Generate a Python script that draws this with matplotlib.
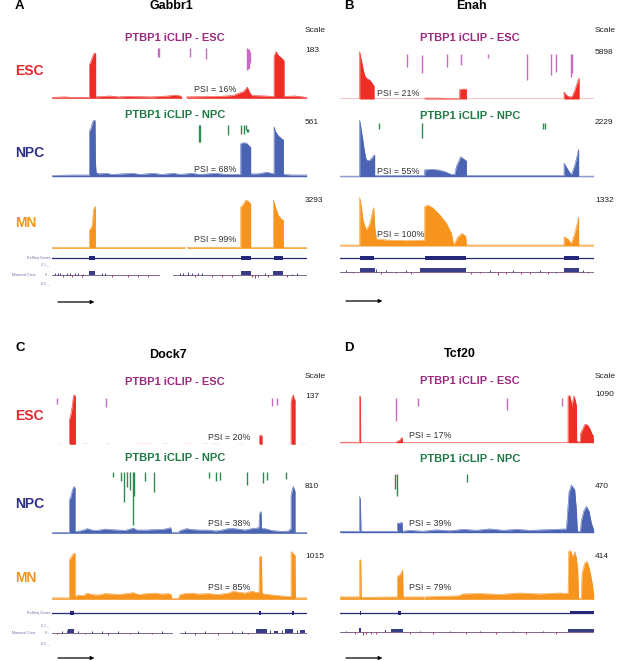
import matplotlib
matplotlib.use("Agg")
import matplotlib.pyplot as plt

plt.rcParams['font.family'] = ['Liberation Sans', 'DejaVu Sans']

# ---------------- DATA ----------------
# Positions are in gene units (0..span), coverage as fraction of the track scale.
genes = ["Gabbr1", "Enah", "Dock7", "Tcf20"]
panel_letters = ["A", "B", "C", "D"]
spans = [765, 762, 765, 762]

gabbr1_scale = [183, 561, 3293]
enah_scale = [5898, 2229, 1332]
dock7_scale = [137, 810, 1015]
tcf20_scale = [1090, 470, 414]

gabbr1_psi = [16, 68, 99]
enah_psi = [21, 55, 100]
dock7_psi = [20, 38, 85]
tcf20_psi = [17, 39, 79]

# --- Gabbr1 coverage ---
gabbr1_esc = [(0,0.02),(40,0.03),(60,0.02),(113,0.02),(113,0.72),(117,0.78),(123,0.9),(127,0.96),(130,0.97),
              (132,0.95),(132,0.03),(175,0.05),(200,0.03),(225,0.04),(300,0.03),(350,0.05),(370,0.07),(385,0.05),
              (390,0.03),(390,0),(405,0),(405,0.03),(500,0.04),(545,0.06),(565,0.12),(575,0.14),(582,0.2),
              (587,0.24),(592,0.15),(600,0.06),(640,0.05),(667,0.04),(667,0.9),(673,1.0),(680,0.92),(690,0.86),
              (695,0.82),(697,0.8),(697,0.04),(730,0.05),(765,0.02)]
gabbr1_npc = [(0,0.02),(60,0.03),(113,0.03),(113,0.8),(118,0.86),(123,0.97),(128,1.0),(130,0.99),(131,0.3),
              (133,0.08),(140,0.05),(165,0.06),(180,0.04),(245,0.06),(265,0.04),(305,0.06),(330,0.04),(365,0.06),
              (385,0.04),(420,0.06),(445,0.04),(490,0.06),(525,0.04),(567,0.04),(567,0.58),(575,0.6),(585,0.59),
              (593,0.54),(597,0.52),(597,0.05),(620,0.05),(645,0.08),(667,0.05),(667,0.88),(671,0.8),(680,0.72),
              (690,0.67),(695,0.65),(695,0.04),(720,0.03),(765,0.03)]
gabbr1_mn = [(0,0.02),(113,0.02),(113,0.38),(118,0.42),(122,0.5),(125,0.8),(129,0.86),(131,0.86),(131,0.02),
             (400,0.02),(400,0),(407,0),(407,0.02),(567,0.02),(567,0.85),(575,0.92),(583,1.0),(590,0.97),
             (597,0.93),(597,0.02),(665,0.02),(665,1.0),(671,0.86),(680,0.68),(690,0.6),(695,0.58),(695,0.02),
             (765,0.02)]
gabbr1_clip_esc = [(320,1.07,0.89),(322,1.07,0.89),(416,1.07,0.89),(462,1.07,0.84),
                   (587,1.07,0.6),(590,1.05,0.62),(593,1.05,0.65),(596,1.0,0.75)]
gabbr1_clip_npc = [(441,0.91,0.62),(444,0.91,0.62),(530,0.91,0.74),(567,0.91,0.76),(578,0.91,0.76),
                   (584,0.91,0.82),(587,0.85,0.78),(590,0.85,0.78)]
gabbr1_exons = [(113,130),(567,597),(667,695)]
gabbr1_cons_segments = [(0,323),(365,765)]
gabbr1_cons_blocks = [(113,130,0.45),(567,597,0.45),(663,695,0.45)]
gabbr1_cons_ticks = [(10,0.25),(18,0.2),(25,0.3),(33,-0.3),(45,0.25),(55,0.2),(60,-0.2),(70,0.2),(80,0.3),
                     (90,-0.3),(95,0.15),(150,0.25),(160,0.2),(180,-0.2),(230,-0.2),(260,-0.25),(290,-0.2),
                     (385,0.2),(395,0.3),(410,0.35),(420,0.2),(430,-0.3),(440,0.25),(450,0.2),(480,-0.3),
                     (510,-0.25),(540,-0.2),(600,-0.3),(610,-0.35),(620,-0.3),(640,0.2),(650,-0.25),(705,-0.3),
                     (720,0.15),(735,0.2)]

# --- Enah coverage ---
enah_esc = [(0,0),(60,0),(60,1.0),(63,0.88),(67,0.75),(72,0.58),(75,0.5),(80,0.44),(90,0.4),(96,0.35),
            (100,0.3),(103,0.28),(103,0),(255,0),(255,0.02),(300,0.02),(335,0.01),(360,0.01),(360,0.2),
            (370,0.21),(378,0.21),(380,0.2),(380,0),(673,0),(673,0.15),(680,0.08),(690,0.04),(698,0.06),
            (705,0.18),(712,0.33),(718,0.44),(718,0),(762,0)]
enah_npc = [(0,0.01),(60,0.01),(60,1.0),(64,0.85),(68,0.7),(73,0.5),(78,0.33),(82,0.29),(90,0.29),(95,0.32),
            (103,0.38),(105,0.38),(105,0.02),(255,0.02),(255,0.12),(275,0.13),(295,0.12),(315,0.09),(335,0.04),
            (345,0.04),(350,0.18),(363,0.35),(375,0.3),(380,0.28),(380,0.02),(673,0.02),(673,0.24),(685,0.12),
            (695,0.03),(705,0.2),(717,0.48),(717,0.01),(762,0.01)]
enah_mn = [(0,0.02),(60,0.02),(60,1.0),(65,0.8),(70,0.53),(75,0.42),(80,0.33),(90,0.45),(100,0.75),(102,0.79),
           (105,0.4),(110,0.14),(150,0.12),(200,0.11),(255,0.12),(255,0.81),(265,0.84),(280,0.78),(300,0.64),
           (320,0.47),(335,0.26),(342,0.02),(355,0.19),(367,0.26),(378,0.2),(380,0.02),(673,0.02),(673,0.19),
           (685,0.14),(695,0.05),(705,0.26),(717,0.59),(717,0.02),(762,0.02)]
enah_clip_esc = [(203,0.96,0.68),(248,0.93,0.54),(323,0.96,0.68),(365,0.95,0.72),(445,0.95,0.86),
                 (562,0.96,0.40),(633,0.96,0.5),(650,0.96,0.58),(693,0.96,0.47),(698,0.96,0.55)]
enah_clip_npc = [(118,0.94,0.84),(248,0.94,0.68),(611,0.94,0.85),(615,0.94,0.85)]
enah_exons = [(60,103),(255,380),(673,717)]
enah_cons_segments = [(0,762)]
enah_cons_blocks = [(60,105,0.4),(240,380,0.45),(673,717,0.4)]
enah_cons_ticks = [(20,0.15),(40,-0.2),(110,0.3),(125,-0.25),(140,0.2),(170,-0.2),(200,0.2),(215,-0.3),
                   (395,-0.3),(420,-0.2),(450,0.2),(475,-0.4),(500,-0.3),(520,0.2),(545,-0.3),(570,-0.25),
                   (600,0.2),(625,-0.3),(650,-0.2),(730,0.2),(745,-0.2)]

# --- Dock7 coverage ---
dock7_esc = [(0,0),(53,0),(53,0.49),(58,0.62),(60,0.7),(63,0.85),(65,0.98),(69,1.0),(71,0.95),(71,0),(623,0),
             (623,0.16),(627,0.19),(631,0.17),(631,0),(718,0),(718,0.86),(722,0.97),(725,1.0),(727,0.93),
             (730,0.9),(730,0),(765,0)]
dock7_esc_dashes = [(15,25),(90,105),(160,172),(255,300),(330,345),(395,415),(455,470),(480,500),(560,575),
                    (705,712),(745,760)]
dock7_npc = [(0,0.02),(53,0.02),(53,0.71),(58,0.8),(62,0.93),(67,1.0),(70,0.97),(70,0.04),(85,0.05),(100,0.08),
             (107,0.1),(120,0.07),(135,0.06),(160,0.09),(175,0.08),(200,0.07),(220,0.06),(245,0.11),(255,0.07),
             (285,0.07),(310,0.08),(330,0.08),(345,0.1),(357,0.12),(360,0.02),(380,0.02),(385,0.06),(405,0.1),
             (420,0.08),(445,0.07),(470,0.07),(490,0.05),(505,0.06),(530,0.1),(545,0.1),(560,0.09),(580,0.07),
             (600,0.1),(615,0.11),(620,0.12),(622,0.12),(623,0.4),(626,0.46),(628,0.46),(629,0.1),(640,0.1),
             (660,0.06),(690,0.04),(710,0.05),(718,0.1),(718,0.79),(722,0.95),(725,1.0),(728,0.93),(730,0.9),
             (730,0.02),(765,0.02)]
dock7_mn = [(0,0.03),(53,0.03),(53,0.83),(58,0.88),(62,0.93),(67,0.97),(70,0.95),(70,0.06),(80,0.09),(95,0.08),
            (107,0.13),(120,0.1),(140,0.09),(160,0.12),(185,0.11),(200,0.1),(225,0.12),(245,0.14),(260,0.1),
            (285,0.12),(310,0.13),(330,0.11),(350,0.12),(358,0.1),(360,0.02),(380,0.02),(385,0.1),(400,0.12),
            (420,0.13),(440,0.11),(470,0.12),(500,0.1),(530,0.13),(545,0.17),(560,0.15),(580,0.13),(600,0.17),
            (615,0.14),(622,0.15),(623,0.88),(626,0.9),(629,0.9),(631,0.12),(650,0.1),(690,0.07),(710,0.06),
            (718,0.06),(718,1.0),(722,0.98),(726,0.94),(730,0.93),(731,0.03),(765,0.03)]
dock7_clip_esc = [(17,0.93,0.82),(163,0.93,0.75),(660,0.93,0.78),(677,0.93,0.8)]
dock7_clip_npc = [(183,1.32,1.21),(209,1.32,1.11),(217,1.32,0.68),(225,1.32,1.0),(235,1.32,0.93),(243,1.32,0.18),
                  (248,1.32,0.79),(280,1.32,1.11),(307,1.32,0.89),(472,1.32,1.18),(493,1.32,1.11),
                  (505,1.32,1.14),(587,1.32,1.04),(635,1.32,1.07),(647,1.32,1.14),(702,1.32,1.16)]
dock7_exons = [(55,67),(623,629),(720,726)]
dock7_cons_segments = [(0,360),(385,765)]
dock7_cons_blocks = [(50,67,0.4),(612,645,0.45),(668,678,0.25),(700,725,0.45),(745,760,0.35)]
dock7_cons_ticks = [(15,-0.2),(30,0.2),(45,0.3),(80,0.2),(100,-0.2),(120,0.15),(150,0.2),(170,-0.25),(200,0.2),
                    (235,-0.2),(260,0.2),(300,-0.2),(330,0.15),(400,0.2),(430,-0.25),(460,0.2),(500,-0.3),
                    (540,0.2),(570,0.2),(590,-0.2),(655,0.3),(690,0.35),(735,0.3)]

# --- Tcf20 coverage ---
tcf20_esc = [(0,0.01),(60,0.01),(60,0.97),(62,0.97),(63,0),(170,0),(170,0.02),(180,0.05),(185,0.1),(188,0.1),
             (188,0),(685,0),(685,0.97),(690,0.99),(693,0.9),(697,0.76),(700,0.9),(703,0.98),(707,0.88),
             (710,0.78),(711,0.02),(722,0.02),(723,0.2),(730,0.3),(735,0.38),(742,0.38),(750,0.3),(757,0.18),
             (760,0.16),(761,0),(762,0)]
tcf20_npc = [(0,0.03),(60,0.03),(60,0.76),(62,0.7),(64,0.03),(173,0.03),(173,0.2),(180,0.2),(187,0.22),
             (188,0.03),(210,0.05),(250,0.03),(290,0.06),(330,0.04),(370,0.07),(410,0.05),(450,0.08),(490,0.05),
             (530,0.07),(570,0.05),(610,0.06),(650,0.07),(680,0.08),(688,0.86),(693,0.95),(695,1.0),(700,0.95),
             (705,0.9),(710,0.48),(713,0.03),(722,0.03),(725,0.25),(732,0.45),(740,0.55),(748,0.45),(755,0.2),
             (760,0.1),(762,0.05)]
tcf20_mn = [(0,0.05),(60,0.05),(60,0.81),(63,0.81),(65,0.04),(173,0.05),(173,0.47),(180,0.5),(185,0.55),
            (189,0.6),(190,0.05),(250,0.05),(252,0.01),(256,0.05),(300,0.06),(355,0.07),(370,0.11),(420,0.12),
            (480,0.1),(540,0.13),(600,0.11),(660,0.13),(685,0.12),(687,0.98),(693,1.0),(697,0.9),(700,0.88),
            (705,0.98),(710,0.85),(714,0.6),(717,0.02),(725,0.02),(727,0.53),(735,0.74),(742,0.78),(750,0.6),
            (757,0.35),(762,0.1)]
tcf20_clip_esc = [(170,0.93,0.46),(235,0.93,0.76),(501,0.93,0.69),(667,0.93,0.77)]
tcf20_clip_npc = [(166,1.24,0.91),(171,1.24,0.76),(381,1.24,1.07)]
tcf20_exons = [(60,65),(175,185),(690,762)]
tcf20_cons_segments = [(0,762)]
tcf20_cons_blocks = [(58,63,0.45),(135,140,0.3),(155,190,0.4),(685,762,0.35)]
tcf20_cons_ticks = [(20,0.15),(45,-0.2),(70,-0.35),(80,-0.3),(95,-0.25),(110,-0.2),(210,-0.2),(240,0.15),
                    (280,-0.2),(330,0.15),(380,-0.2),(420,0.15),(470,-0.2),(520,0.15),(560,-0.2),(610,0.15),
                    (650,-0.2)]

# --------------- STYLE / LAYOUT ---------------
W, H = 617, 661
fig = plt.figure(figsize=(W / 100, H / 100), dpi=100)
fig.patch.set_facecolor("white")

C_ESC, C_NPC, C_MN = "#ee2d25", "#4a63b3", "#f7941d"
L_ESC, L_NPC, L_MN = "#e8262c", "#2b2f8a", "#f7941d"
C_CLIP_ESC, C_CLIP_NPC = "#c86ac2", "#2e8b50"
T_CLIP_ESC, T_CLIP_NPC = "#9c2a7f", "#1f7a45"
C_GENE = "#23287a"
YMAX = 1.4


def box(x0, x1, ytop, ybot):
    a = fig.add_axes([x0 / W, 1 - ybot / H, (x1 - x0) / W, (ybot - ytop) / H])
    a.set_axis_off()
    return a


def txt(x, y, s, **kw):
    fig.text(x / W, 1 - y / H, s, **kw)


def track(x0, x1, span, base, unit, prof, color, clips=None, clip_color=None, dashes=None):
    ax = box(x0, x1, base - YMAX * unit, base)
    ax.set_xlim(0, span)
    ax.set_ylim(0, YMAX)
    xs = [p[0] for p in prof]
    ys = [p[1] for p in prof]
    ax.fill_between(xs, 0, ys, color=color, lw=0)
    ax.plot(xs, ys, color=color, lw=0.4)
    if dashes:
        for a, b in dashes:
            ax.plot([a, b], [0.012, 0.012], color="#f08080", lw=1.0, solid_capstyle="butt")
    if clips:
        ax.vlines([c[0] for c in clips], [c[2] for c in clips], [c[1] for c in clips],
                  color=clip_color, lw=1.0)
    return ax


def gene_track(x0, x1, span, y, exons, thin_last=False):
    ax = box(x0, x1, y - 3, y + 3)
    ax.set_xlim(0, span)
    ax.set_ylim(-1, 1)
    ax.plot([0, span], [0, 0], color=C_GENE, lw=0.9)
    for i, (a, b) in enumerate(exons):
        h = 0.45 if (thin_last and i == len(exons) - 1) else 0.65
        ax.fill_between([a, b], -h, h, color=C_GENE, lw=0)


def cons_track(x0, x1, span, y0, segs, blocks, ticks):
    ax = box(x0, x1, y0 - 8, y0 + 8)
    ax.set_xlim(0, span)
    ax.set_ylim(-1, 1)
    for a, b in segs:
        ax.plot([a, b], [0, 0], color="#6b4f7f", lw=0.6)
    for a, b, h in blocks:
        ax.fill_between([a, b], 0, h, color=C_GENE, lw=0, alpha=0.9)
    for x, h in ticks:
        ax.vlines(x, 0, h, color=C_GENE if h > 0 else "#a02030", lw=0.6)


panels = [
    dict(x0=51.7, x1=306.7, base=[(98.3, 46.7), (176.7, 56.7), (248.3, 48.3)], gene_y=258.3, cons_y=275.0,
         profs=[gabbr1_esc, gabbr1_npc, gabbr1_mn], clips=[gabbr1_clip_esc, gabbr1_clip_npc],
         exons=gabbr1_exons, cons=(gabbr1_cons_segments, gabbr1_cons_blocks, gabbr1_cons_ticks),
         scale=gabbr1_scale, psi=gabbr1_psi, psi_x=194, psi_y=[89, 169, 240],
         title_x=171, title_y=6, letter_x=15, clip_x=175, clip_y=[38, 115],
         scale_x=305, scale_y=[30, 50, 123, 200], row_y=[71, 153, 223], arrow_y=302, left_labels=True,
         lab_y=(258.3, 264, 275, 283), dashes=None, thin_last=False),
    dict(x0=339.7, x1=593.7, base=[(99.0, 47.3), (176.7, 56.7), (246.0, 48.7)], gene_y=257.7, cons_y=271.7,
         profs=[enah_esc, enah_npc, enah_mn], clips=[enah_clip_esc, enah_clip_npc],
         exons=enah_exons, cons=(enah_cons_segments, enah_cons_blocks, enah_cons_ticks),
         scale=enah_scale, psi=enah_psi, psi_x=377, psi_y=[93, 171, 235],
         title_x=471, title_y=6, letter_x=344, clip_x=470, clip_y=[38, 116],
         scale_x=595, scale_y=[31, 52, 123, 200], row_y=None, arrow_y=301, left_labels=False,
         lab_y=None, dashes=None, thin_last=False),
    dict(x0=51.7, x1=306.7, base=[(444.3, 49.3), (533.3, 46.7), (599.3, 47.7)], gene_y=612.7, cons_y=632.5,
         profs=[dock7_esc, dock7_npc, dock7_mn], clips=[dock7_clip_esc, dock7_clip_npc],
         exons=dock7_exons, cons=(dock7_cons_segments, dock7_cons_blocks, dock7_cons_ticks),
         scale=dock7_scale, psi=dock7_psi, psi_x=208, psi_y=[437, 523, 588],
         title_x=168, title_y=355, letter_x=15, clip_x=175, clip_y=[382, 458],
         scale_x=305, scale_y=[377, 397, 487, 557], row_y=[416, 504, 578], arrow_y=658, left_labels=True,
         lab_y=(612.7, 625, 633, 643), dashes=dock7_esc_dashes, thin_last=False),
    dict(x0=339.7, x1=593.7, base=[(442.7, 47.7), (532.7, 47.7), (599.3, 48.7)], gene_y=612.7, cons_y=632.0,
         profs=[tcf20_esc, tcf20_npc, tcf20_mn], clips=[tcf20_clip_esc, tcf20_clip_npc],
         exons=tcf20_exons, cons=(tcf20_cons_segments, tcf20_cons_blocks, tcf20_cons_ticks),
         scale=tcf20_scale, psi=tcf20_psi, psi_x=409, psi_y=[435, 523, 588],
         title_x=460, title_y=354, letter_x=344, clip_x=470, clip_y=[381, 459],
         scale_x=595, scale_y=[377, 395, 487, 557], row_y=None, arrow_y=658, left_labels=False,
         lab_y=None, dashes=None, thin_last=True),
]

colors = [C_ESC, C_NPC, C_MN]
letter_y = [6, 6, 348, 348]

for i, p in enumerate(panels):
    span = spans[i]
    for k in range(3):
        base, unit = p["base"][k]
        clips = p["clips"][k] if k < 2 else None
        cc = [C_CLIP_ESC, C_CLIP_NPC][k] if k < 2 else None
        track(p["x0"], p["x1"], span, base, unit, p["profs"][k], colors[k], clips, cc,
              dashes=p["dashes"] if k == 0 else None)
    gene_track(p["x0"], p["x1"], span, p["gene_y"], p["exons"], p["thin_last"])
    cons_track(p["x0"], p["x1"], span, p["cons_y"], *p["cons"])

    # titles
    txt(p["letter_x"], letter_y[i], panel_letters[i], fontsize=9.5, fontweight="bold", va="center", ha="left")
    txt(p["title_x"], p["title_y"], genes[i], fontsize=9, fontweight="bold", va="center", ha="center")
    txt(p["clip_x"], p["clip_y"][0], "PTBP1 iCLIP - ESC", fontsize=8, fontweight="bold",
        color=T_CLIP_ESC, va="center", ha="center")
    txt(p["clip_x"], p["clip_y"][1], "PTBP1 iCLIP - NPC", fontsize=8, fontweight="bold",
        color=T_CLIP_NPC, va="center", ha="center")
    # scale
    txt(p["scale_x"], p["scale_y"][0], "Scale", fontsize=6, va="center", ha="left", color="#222222")
    for k in range(3):
        txt(p["scale_x"], p["scale_y"][k + 1], str(p["scale"][k]), fontsize=6, va="center", ha="left",
            color="#222222")
    # PSI
    for k in range(3):
        txt(p["psi_x"], p["psi_y"][k], f"PSI = {p['psi'][k]}%", fontsize=6.4, va="center", ha="left",
            color="#333333")
    # row labels
    if p["row_y"]:
        for k, (lab, col) in enumerate(zip(["ESC", "NPC", "MN"], [L_ESC, L_NPC, L_MN])):
            txt(15, p["row_y"][k], lab, fontsize=10, fontweight="bold", color=col, va="center", ha="left")
    if p["left_labels"]:
        gy, y21, y0, ym = p["lab_y"]
        kw = dict(fontsize=2.6, color="#6f72a8", va="center")
        txt(51, gy, "RefSeq Genes", ha="right", **kw)
        txt(49, y21, "2.1 _", ha="right", **kw)
        txt(35, y0, "Mammal Cons", ha="right", **kw)
        txt(49, y0, "0 -", ha="right", **kw)
        txt(49, ym, "-0.5 _", ha="right", **kw)
    # strand arrow
    ax0 = p["x0"] + 3.5
    fig.add_artist(matplotlib.patches.FancyArrowPatch(
        (ax0 / W, 1 - p["arrow_y"] / H), ((ax0 + 42) / W, 1 - p["arrow_y"] / H),
        transform=fig.transFigure, arrowstyle="-|>", mutation_scale=5, lw=0.9, color="black"))

fig.savefig("out.png", dpi=100, facecolor="white")
